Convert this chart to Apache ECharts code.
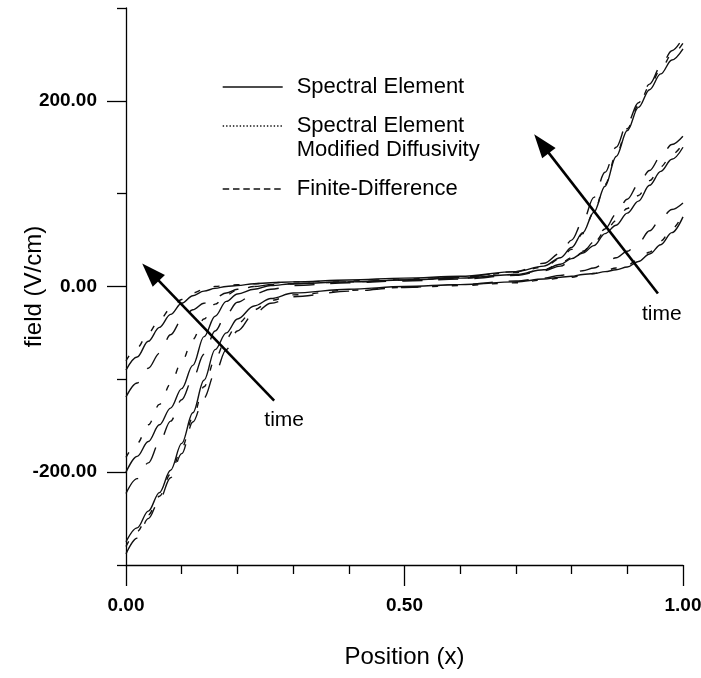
<!DOCTYPE html>
<html>
<head>
<meta charset="utf-8">
<script src="https://cdn.jsdelivr.net/npm/echarts@6/dist/echarts.min.js"></script>
<style>
  html, body { margin: 0; padding: 0; background: #fff; }
  #chart { width: 701px; height: 678px; }
</style>
</head>
<body>
<div id="chart"></div>
<script>
// ---------------- data ----------------
const xPos = [0, 0.02, 0.04, 0.06, 0.08, 0.10, 0.12, 0.14, 0.16, 0.18, 0.20, 0.23, 0.26, 0.30, 0.40, 0.50,
              0.60, 0.70, 0.75, 0.78, 0.80, 0.82, 0.84, 0.86, 0.88, 0.90, 0.92, 0.94, 0.96, 0.98, 1.00];

// Spectral Element (solid), three time levels
const seT1 = [-275, -260, -242, -222, -198, -169, -136, -101, -68, -50, -35, -21, -13, -7, -3, 0,
              2, 5, 8, 10, 11, 13, 14, 16, 18, 21, 27, 35, 45, 58, 75];
const seT2 = [-200, -183, -167, -149, -131, -110, -85, -54, -32, -16, -8, -3, 1, 3, 5, 7,
              9, 13, 18, 24, 30, 36, 44, 57, 66, 79, 92, 109, 124, 137, 150];
const seT3 = [-90, -76, -59, -44, -30, -18, -10, -5, -2, 0, 1, 3, 4, 5, 7, 9,
              11, 16, 22, 31, 42, 58, 80, 108, 140, 168, 193, 212, 229, 244, 256];

// Spectral Element, Modified Diffusivity (dotted)
const mdT1 = [-280, -264, -246, -226, -202, -174, -141, -108, -78, -56, -40, -25, -15, -9, -4, -1,
              1, 4, 7, 9, 10, 12, 14, 17, 20, 23, 29, 37, 49, 62, 78];
const mdT2 = [-184, -169, -149, -127, -105, -81, -57, -35, -19, -9, -4, 0, 2, 3, 5, 7,
              9, 13, 18, 25, 31, 38, 47, 59, 71, 84, 98, 114, 129, 142, 154];
const mdT3 = [-80, -66, -50, -36, -24, -14, -7, -3, 0, 1, 2, 3, 4, 5, 6, 8,
              10, 15, 21, 30, 40, 57, 80, 110, 142, 170, 195, 216, 234, 250, 262];

// Finite-Difference (dashed)
const fdT1 = [-288, -271, -250, -230, -206, -180, -146, -120, -93, -68, -48, -29, -18, -11, -5, -1,
              2, 6, 9, 12, 14, 17, 20, 25, 31, 38, 47, 60, 73, 83, 90];
const fdT2 = [-223, -207, -190, -168, -145, -122, -99, -73, -48, -30, -17, -8, -3, 1, 4, 6,
              8, 12, 17, 22, 28, 37, 48, 62, 78, 94, 110, 125, 140, 153, 162];
const fdT3 = [-119, -104, -88, -72, -52, -36, -25, -18, -12, -7, -3, 0, 2, 3, 5, 7,
              10, 16, 25, 36, 50, 70, 96, 123, 150, 176, 198, 218, 237, 254, 268];

// tick labels
const yLabelValues = [-200, 0, 200];
const yMinorValues = [-300, -100, 100, 300];

// annotations ("time" arrows): [tail, head] in data units
const arrowLeft  = [[0.266, -123], [0.044, 15.4]];
const arrowRight = [[0.955, -7.5], [0.746, 153.9]];
const timeLabels = [[0.284, -144.5], [0.962, -30]];

// ---------------- chart ----------------
const FONT = '"Liberation Sans", Arial, Helvetica, sans-serif';
const INK = '#111';
const chart = echarts.init(document.getElementById('chart'), null, { renderer: 'canvas' });

const SE = 'Spectral Element';
const MD = 'Spectral Element Modified Diffusivity';
const FD = 'Finite-Difference';

const styleFor = {
  [SE]: { type: 'solid', width: 1.4 },
  [MD]: { type: [6, 14], width: 1.4 },
  [FD]: { type: [20, 16], width: 1.4 }
};

function mkSeries(name, arr, extra) {
  return Object.assign({
    name: name,
    type: 'line',
    data: xPos.map((x, i) => [x, arr[i]]),
    symbol: 'none',
    showSymbol: false,
    smooth: 0.35,
    smoothMonotone: 'x',
    silent: true,
    lineStyle: Object.assign({ color: INK }, styleFor[name]),
    itemStyle: { color: INK },
    z: 2
  }, extra || {});
}

const arrowMark = {
  silent: true,
  symbol: ['none', 'triangle'],
  symbolSize: [17, 24],
  label: { show: false },
  lineStyle: { color: '#000', width: 2.6, type: 'solid' },
  emphasis: { disabled: true },
  data: [
    [{ coord: arrowLeft[0] }, { coord: arrowLeft[1] }],
    [{ coord: arrowRight[0] }, { coord: arrowRight[1] }]
  ]
};
const timeMark = {
  silent: true,
  symbol: 'circle',
  symbolSize: 0,
  label: { show: true, position: 'inside', formatter: 'time', color: '#000',
           fontSize: 21, fontFamily: FONT },
  data: timeLabels.map(c => ({ coord: c }))
};

const series = [
  mkSeries(SE, seT1, { markLine: arrowMark, markPoint: timeMark }),
  mkSeries(SE, seT2),
  mkSeries(SE, seT3),
  mkSeries(MD, mdT1),
  mkSeries(MD, mdT2),
  mkSeries(MD, mdT3),
  mkSeries(FD, fdT1),
  mkSeries(FD, fdT2),
  mkSeries(FD, fdT3)
];

const legendText = { fontSize: 22, lineHeight: 24, fontFamily: FONT, color: '#000', padding: [0, 0, 0, 9] };
// the two-line entry keeps its sample line level with its first line (blank line above)
const legendFmt = n => (n === MD ? ' \nSpectral Element\nModified Diffusivity' : n);
const noSymbol = { color: 'rgba(0,0,0,0)', borderWidth: 0, opacity: 0 };

chart.setOption({
  animation: false,
  backgroundColor: '#fff',
  grid: { left: 126, right: 18, top: 8, bottom: 113, containLabel: false, outerBoundsMode: 'none' },
  legend: [
    {
      orient: 'vertical', left: 217, top: 70, itemWidth: 60, itemHeight: 14, itemGap: -9,
      selectedMode: false, textStyle: legendText, formatter: legendFmt,
      data: [
        { name: SE, itemStyle: noSymbol, lineStyle: { type: 'solid', width: 1.4, color: INK } },
        { name: MD, itemStyle: noSymbol, lineStyle: { type: [1.4, 2], width: 1.4, color: INK } }
      ]
    },
    {
      orient: 'vertical', left: 217, top: 172, itemWidth: 60, itemHeight: 14, itemGap: 0,
      selectedMode: false, textStyle: legendText, formatter: legendFmt,
      data: [
        { name: FD, itemStyle: noSymbol, lineStyle: { type: [6.5, 3.8], width: 1.4, color: INK } }
      ]
    }
  ],
  xAxis: {
    type: 'value', min: 0, max: 1, interval: 0.5,
    name: 'Position (x)', nameLocation: 'middle', nameGap: 80, nameMoveOverlap: false,
    nameTextStyle: { fontSize: 24, fontFamily: FONT, color: '#000' },
    axisLine: { onZero: false, lineStyle: { color: '#000', width: 1.3 } },
    axisTick: { length: 21, lineStyle: { color: '#000', width: 1.3 } },
    minorTick: { show: true, splitNumber: 5, length: 9, lineStyle: { color: '#000', width: 1.3 } },
    splitLine: { show: false },
    minorSplitLine: { show: false },
    axisLabel: { margin: 31, fontSize: 19, fontWeight: 'bold', fontFamily: FONT, color: '#000',
                 formatter: v => v.toFixed(2) }
  },
  yAxis: [
    {
      type: 'value', min: -300, max: 300, position: 'left',
      name: 'field (V/cm)', nameLocation: 'middle', nameGap: 80, nameMoveOverlap: false,
      nameTextStyle: { fontSize: 24, fontFamily: FONT, color: '#000' },
      axisLine: { show: true, onZero: false, lineStyle: { color: '#000', width: 1.3 } },
      axisTick: { show: true, customValues: yLabelValues, length: 19, lineStyle: { color: '#000', width: 1.3 } },
      axisLabel: { customValues: yLabelValues, margin: 29, fontSize: 19, fontWeight: 'bold',
                   fontFamily: FONT, color: '#000', formatter: v => Number(v).toFixed(2) },
      splitLine: { show: false }
    },
    {
      type: 'value', min: -300, max: 300, position: 'left', offset: 0,
      axisLine: { show: false, onZero: false },
      axisTick: { show: true, customValues: yMinorValues, length: 9, lineStyle: { color: '#000', width: 1.3 } },
      axisLabel: { show: false },
      splitLine: { show: false }
    }
  ],
  series: series
});
</script>
</body>
</html>
